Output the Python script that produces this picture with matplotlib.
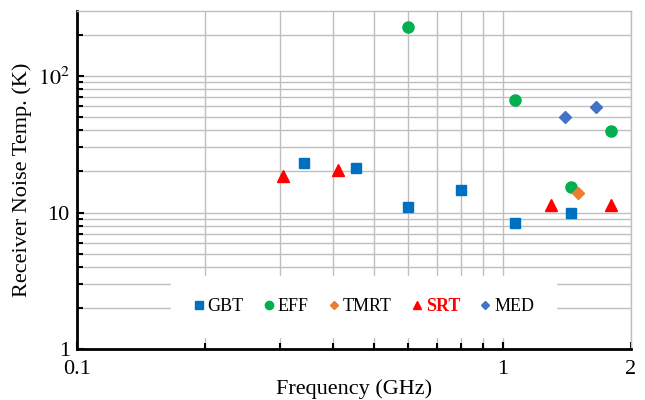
import matplotlib
matplotlib.use('Agg')
import matplotlib.pyplot as plt
from matplotlib.ticker import FixedLocator, FixedFormatter, NullFormatter

plt.rcParams['font.family'] = ['Liberation Serif', 'DejaVu Serif']
plt.rcParams['mathtext.fontset'] = 'stix'

# data
gbt_f = [0.342, 0.453, 0.6, 0.8, 1.07, 1.45]
gbt_t = [23, 21.2, 11.0, 14.6, 8.4, 10.0]
eff_f = [0.6, 1.07, 1.45, 1.8]
eff_t = [228, 66.7, 15.4, 39.5]
tmrt_f = [1.5]
tmrt_t = [13.9]
srt_f = [0.305, 0.41, 1.3, 1.8]
srt_t = [18.5, 20.5, 11.4, 11.4]
med_f = [1.4, 1.66]
med_t = [50, 59]

fig = plt.figure(figsize=(6.45, 4.0), dpi=100)
ax = fig.add_axes([0.119, 0.1275, 0.859, 0.845])

ax.set_xscale('log')
ax.set_yscale('log')
ax.set_xlim(0.1, 2)
ax.set_ylim(1, 300)

grid_c = '#BFBFBF'
ax.set_axisbelow(True)

ax.plot(gbt_f, gbt_t, 's', color='#0070C0', ms=7, label='GBT', zorder=3)
ax.plot(eff_f, eff_t, 'o', color='#00B050', ms=8, label='EFF', zorder=3)
ax.plot(tmrt_f, tmrt_t, 'D', color='#ED7D31', ms=6, label='TMRT', zorder=3)
ax.plot(srt_f, srt_t, '^', color='#FF0000', ms=8, label='SRT', zorder=3)
ax.plot(med_f, med_t, 'D', color='#4472C4', ms=6, label='MED', zorder=3)

# ticks
ax.xaxis.set_major_locator(FixedLocator([0.1, 1, 2]))
ax.xaxis.set_major_formatter(FixedFormatter(['0.1', '1', '2']))
ax.xaxis.set_minor_locator(FixedLocator([0.2, 0.3, 0.4, 0.5, 0.6, 0.7, 0.8, 0.9]))
ax.xaxis.set_minor_formatter(NullFormatter())
ax.yaxis.set_major_locator(FixedLocator([1, 10, 100]))
ax.yaxis.set_major_formatter(FixedFormatter(['1', '10', '$10^2$']))
yminor = [2, 3, 4, 5, 6, 7, 8, 9, 20, 30, 40, 50, 60, 70, 80, 90, 200]
ax.yaxis.set_minor_locator(FixedLocator(yminor))
ax.yaxis.set_minor_formatter(NullFormatter())

ax.tick_params(which='both', direction='in', labelsize=16, width=1.5, color='black')
ax.tick_params(which='major', length=5)
ax.tick_params(which='minor', length=4)
ax.tick_params(axis='x', pad=8)
ax.tick_params(axis='y', pad=5)

ax.grid(True, which='both', color=grid_c, lw=1.0)

for s in ['left', 'bottom']:
    ax.spines[s].set_linewidth(2)
    ax.spines[s].set_color('black')
for s in ['top', 'right']:
    ax.spines[s].set_linewidth(1)
    ax.spines[s].set_color(grid_c)

ax.set_xlabel('Frequency (GHz)', fontsize=16, labelpad=0)
ax.set_ylabel('Receiver Noise Temp. (K)', fontsize=16, labelpad=4)

leg = ax.legend(loc='lower left', bbox_to_anchor=(0.171, 0.036, 0.694, 0.18),
                mode='expand', ncol=5, frameon=True, fancybox=False,
                edgecolor='white', framealpha=1, fontsize=13, markerscale=0.75,
                handlelength=0.6, handletextpad=0.2, borderaxespad=0,
                columnspacing=1.5, borderpad=1.2)
for t in leg.get_texts():
    if t.get_text() == 'SRT':
        t.set_color('#FF0000')
        t.set_fontweight('bold')

fig.savefig('out.png', dpi=100)
